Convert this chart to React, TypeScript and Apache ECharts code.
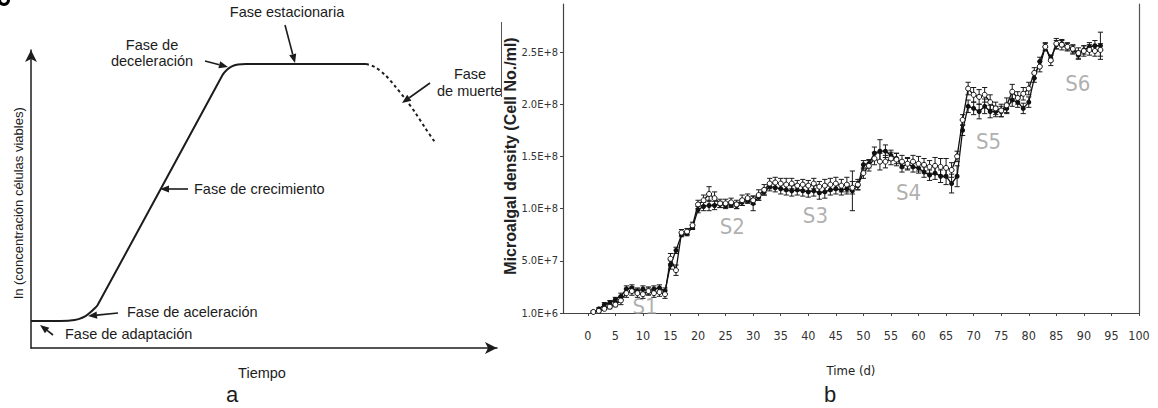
import React, { useEffect, useRef } from "react";
import * as echarts from "echarts";

// ---------- Panel a: schematic growth curve (abstract units 0..100) ----------
const growthX = [0, 6.3, 8.4, 10.2, 11.7, 13.0, 14.3, 41.1, 42.0, 43.1, 44.4, 46.1, 71.9];
const growthY = [9.1, 9.1, 9.2, 9.7, 10.7, 12.3, 14.4, 91.6, 93.3, 94.5, 95.1, 95.3, 95.3];
const deathX = [71.9, 73.8, 76.0, 78.1, 80.3, 82.5, 84.6, 86.8];
const deathY = [95.3, 94.3, 91.6, 87.9, 83.6, 78.9, 73.8, 68.8];

// ---------- Panel b: microalgal density (x 1e6 cells/ml), days 1..93 ----------
const firstDay = 1;
const filledDensity = [
  1, 4, 8, 10, 13, 16, 23, 24, 21, 23, 21, 23, 24, 21,
  46, 60, 75, 76, 82, 99, 102, 103, 103, 104, 103, 104, 103, 106, 108, 105,
  111, 116, 121, 120, 119, 118, 117, 118, 117, 116, 117, 115, 116, 118, 119, 118, 119, 117, 122,
  142, 143, 153, 155, 155, 151, 148, 140, 143, 140,
  139, 135, 132, 134, 131, 131, 124, 131, 175, 198,
  196, 193, 198, 193, 193, 193, 196, 204, 202, 196,
  202, 225, 241, 255, 244, 257, 258, 255, 252, 247,
  252, 255, 256, 256,
];
const openDensity = [
  1, 2, 4, 6, 8, 12, 19, 21, 19, 18, 21, 19, 20, 18,
  52, 41, 77, 78, 84, 104, 108, 114, 110, 105, 105, 106, 104, 108, 110, 108,
  113, 118, 124, 125, 124, 123, 124, 122, 123, 122, 124, 121, 122, 123, 124, 122, 123, 120, 123,
  134, 141, 148, 145, 145, 148, 147, 145, 143, 145,
  143, 142, 140, 141, 140, 139, 137, 150, 185, 215,
  209, 207, 209, 202, 196, 194, 199, 212, 206, 210,
  215, 230, 236, 255, 242, 258, 257, 255, 253, 249,
  251, 252, 251, 252,
];
const filledError = [
  1, 1, 2, 2, 2,
  3, 3, 3, 3, 3, 3, 3, 3, 3,
  4, 3, 2, 2, 2, 3,
  4, 5, 4, 3, 3, 3, 3, 3, 3, 7,
  3, 3, 4, 4, 5, 5, 5, 5, 5, 5,
  5, 6, 6, 5, 5, 5, 5, 19, 4,
  4, 4, 6, 11, 6, 5, 5, 5, 5, 5, 5,
  5, 5, 6, 6, 8, 9, 10,
  5, 6, 6, 7, 7, 6, 5, 5, 5, 6, 5, 5, 5,
  4, 4, 3, 3, 4, 3, 3, 4, 4, 4, 4, 5, 13,
];
const openError = [
  1, 1, 1, 2, 2,
  4, 4, 4, 4, 4, 4, 4, 4, 4,
  5, 5, 3, 3, 3, 4,
  5, 7, 6, 4, 4, 4, 4, 5, 4, 4,
  5, 5, 5, 5, 5, 6, 5, 5, 5, 5,
  5, 5, 6, 6, 6, 6, 7, 6, 5,
  5, 5, 6, 8, 6, 6, 6, 6, 6, 6, 7,
  6, 6, 8, 8, 9, 7, 5,
  5, 6, 7, 7, 7, 7, 6, 6, 7, 7, 6, 6, 6,
  5, 5, 4, 5, 5, 5, 4, 4, 5, 5, 5, 5, 6,
];
const stageNames = ["S1", "S2", "S3", "S4", "S5", "S6"];
const stageX = [10.4, 26.2, 41.3, 58.2, 72.7, 88.9];
const stageY = [6, 83, 93, 115, 164, 220];
const xTicks = [0, 5, 10, 15, 20, 25, 30, 35, 40, 45, 50, 55, 60, 65, 70, 75, 80, 85, 90, 95, 100];
const yTicks = [0, 5e7, 1e8, 1.5e8, 2e8, 2.5e8];
const UNIT = 1e6;

const SANS = '"Liberation Sans", Arial, Helvetica, sans-serif';
const NARROW = '"Liberation Sans Narrow", "Arial Narrow", "DejaVu Sans Condensed", sans-serif';
const INK = "#1c1c1c";
const ANN = 14.5;

function txt(text: string, x: number, y: number, align = "left", size = ANN, extra: any = {}) {
  return {
    type: "text",
    x,
    y,
    z: 100,
    ...extra,
    style: {
      text,
      fill: INK,
      fontSize: size,
      fontFamily: SANS,
      textAlign: align,
      align,
      textVerticalAlign: "middle",
      verticalAlign: "middle",
      ...(extra.style || {}),
    },
  };
}

function arrow(x1: number, y1: number, x2: number, y2: number) {
  const ang = Math.atan2(y2 - y1, x2 - x1);
  const L = 9;
  const W = 3.6;
  const bx = x2 - L * Math.cos(ang);
  const by = y2 - L * Math.sin(ang);
  const px = -Math.sin(ang) * W;
  const py = Math.cos(ang) * W;
  return [
    { type: "line", z: 100, shape: { x1, y1, x2: bx, y2: by }, style: { stroke: INK, lineWidth: 1.6 } },
    {
      type: "polygon",
      z: 100,
      shape: { points: [[x2, y2], [bx + px, by + py], [bx - px, by - py]] },
      style: { fill: INK },
    },
  ];
}

function errorData(vals: number[], errs: number[]) {
  return vals.map((v, i) => [i + firstDay, (v - errs[i]) * UNIT, (v + errs[i]) * UNIT]);
}

function errorRender(params: any, api: any) {
  const x = api.value(0);
  const lo = api.coord([x, api.value(1)]);
  const hi = api.coord([x, api.value(2)]);
  const w = 2.6;
  const st = { stroke: "#1a1a1a", lineWidth: 1 };
  return {
    type: "group",
    children: [
      { type: "line", shape: { x1: lo[0], y1: lo[1], x2: hi[0], y2: hi[1] }, style: st },
      { type: "line", shape: { x1: hi[0] - w, y1: hi[1], x2: hi[0] + w, y2: hi[1] }, style: st },
      { type: "line", shape: { x1: lo[0] - w, y1: lo[1], x2: lo[0] + w, y2: lo[1] }, style: st },
    ],
  };
}

export default function App() {
  const ref = useRef<HTMLDivElement>(null);

  useEffect(() => {
    if (!ref.current) return;
    const chart = echarts.init(ref.current, undefined, { renderer: "svg" });

    const graphics: any[] = [
      // partial glyph at the top-left corner of the scan
      { type: "ring", z: 100, shape: { cx: 4, cy: 0, r: 6, r0: 3 }, style: { fill: "#000" } },
      // panel a annotations
      txt("Fase estacionaria", 287, 12, "center"),
      ...arrow(285, 25, 295, 63),
      txt("Fase de", 152, 45, "center"),
      txt("deceleración", 152, 61, "center"),
      ...arrow(205, 61, 228, 67),
      txt("Fase", 470, 74, "center"),
      txt("de muerte", 437, 91, "left"),
      ...arrow(430, 83, 402, 103),
      txt("Fase de crecimiento", 194, 189),
      ...arrow(188, 189, 160, 189),
      txt("Fase de aceleración", 127, 312),
      ...arrow(118, 313, 88, 316),
      txt("Fase de adaptación", 65, 334),
      ...arrow(53, 335, 40, 325),
      txt("Tiempo", 262, 373, "center"),
      txt("ln (concentración células viables)", 18, 203, "center", 13, { rotation: Math.PI / 2 }),
      txt("a", 232, 394, "center", 22),
      // panel b extras
      {
        type: "text",
        x: 510,
        y: 156,
        rotation: Math.PI / 2,
        z: 100,
        style: {
          text: "Microalgal density (Cell No./ml)",
          fill: "#222",
          fontSize: 16,
          fontWeight: "bold",
          fontFamily: SANS,
          textAlign: "center",
          align: "center",
          textVerticalAlign: "middle",
          verticalAlign: "middle",
        },
      },
      { type: "line", z: 100, shape: { x1: 501.5, y1: 22, x2: 501.5, y2: 97 }, style: { stroke: "#555", lineWidth: 1 } },
      txt("b", 830, 394, "center", 22),
    ];

    const option: any = {
      animation: false,
      backgroundColor: "#ffffff",
      grid: [
        { left: 31, top: 50, width: 466, height: 298 },
        { left: 563, top: 4, width: 576, height: 309 },
      ],
      xAxis: [
        {
          type: "value",
          gridIndex: 0,
          min: 0,
          max: 100,
          axisLine: { show: true, symbol: ["none", "arrow"], symbolSize: [9, 12], lineStyle: { color: INK, width: 1.5 } },
          axisTick: { show: false },
          axisLabel: { show: false },
          splitLine: { show: false },
        },
        {
          type: "value",
          gridIndex: 1,
          min: -4.5,
          max: 100,
          axisLine: { show: true, onZero: false, lineStyle: { color: "#444", width: 1.2 } },
          axisTick: { show: true, length: 3, customValues: xTicks, lineStyle: { color: "#444" } },
          axisLabel: {
            customValues: xTicks,
            margin: 16,
            color: "#333",
            fontSize: 12.5,
            fontFamily: NARROW,
          },
          splitLine: { show: false },
          name: "Time (d)",
          nameLocation: "middle",
          nameGap: 51,
          nameTextStyle: { color: "#222", fontSize: 13, fontFamily: NARROW },
        },
      ],
      yAxis: [
        {
          type: "value",
          gridIndex: 0,
          min: 0,
          max: 100,
          axisLine: { show: true, symbol: ["none", "arrow"], symbolSize: [9, 12], lineStyle: { color: INK, width: 1.5 } },
          axisTick: { show: false },
          axisLabel: { show: false },
          splitLine: { show: false },
        },
        {
          type: "value",
          gridIndex: 1,
          min: 0,
          max: 2.96e8,
          axisLine: { show: true, onZero: false, lineStyle: { color: "#444", width: 1.2 } },
          axisTick: { show: true, length: 3, customValues: yTicks, lineStyle: { color: "#444" } },
          axisLabel: {
            customValues: yTicks,
            margin: 5,
            color: "#333",
            fontSize: 11,
            fontFamily: NARROW,
            formatter: (v: number) => (v === 0 ? "1.0E+6" : v.toExponential(1).toUpperCase()),
          },
          splitLine: { show: false },
        },
        {
          type: "value",
          gridIndex: 1,
          position: "right",
          min: 0,
          max: 2.96e8,
          axisLine: { show: true, onZero: false, lineStyle: { color: "#555", width: 1.2 } },
          axisTick: { show: false },
          axisLabel: { show: false },
          splitLine: { show: false },
        },
      ],
      series: [
        {
          type: "line",
          xAxisIndex: 0,
          yAxisIndex: 0,
          data: growthX.map((x, i) => [x, growthY[i]]),
          showSymbol: false,
          smooth: 0.2,
          lineStyle: { color: INK, width: 2 },
          silent: true,
        },
        {
          type: "line",
          xAxisIndex: 0,
          yAxisIndex: 0,
          data: deathX.map((x, i) => [x, deathY[i]]),
          showSymbol: false,
          smooth: 0.3,
          lineStyle: { color: INK, width: 2, type: [3, 3] },
          silent: true,
        },
        {
          type: "scatter",
          xAxisIndex: 1,
          yAxisIndex: 1,
          data: stageX.map((x, i) => [x, stageY[i] * UNIT, stageNames[i]]),
          symbolSize: 0,
          z: 1,
          label: {
            show: true,
            position: "inside",
            formatter: (p: any) => p.value[2],
            color: "#9b9b9b",
            fontSize: 22,
            fontFamily: NARROW,
          },
          silent: true,
        },
        {
          type: "custom",
          xAxisIndex: 1,
          yAxisIndex: 1,
          renderItem: errorRender,
          encode: { x: 0, y: [1, 2] },
          data: errorData(filledDensity, filledError),
          z: 3,
          silent: true,
        },
        {
          type: "custom",
          xAxisIndex: 1,
          yAxisIndex: 1,
          renderItem: errorRender,
          encode: { x: 0, y: [1, 2] },
          data: errorData(openDensity, openError),
          z: 3,
          silent: true,
        },
        {
          type: "line",
          xAxisIndex: 1,
          yAxisIndex: 1,
          data: filledDensity.map((v, i) => [i + firstDay, v * UNIT]),
          symbol: "circle",
          symbolSize: 5,
          itemStyle: { color: "#111" },
          lineStyle: { color: "#111", width: 1.3 },
          z: 4,
          silent: true,
        },
        {
          type: "line",
          xAxisIndex: 1,
          yAxisIndex: 1,
          data: openDensity.map((v, i) => [i + firstDay, v * UNIT]),
          symbol: "circle",
          symbolSize: 5,
          itemStyle: { color: "#fff", borderColor: "#111", borderWidth: 1 },
          lineStyle: { color: "#111", width: 1.3 },
          z: 5,
          silent: true,
        },
      ],
      graphic: graphics,
    };

    chart.setOption(option);
    return () => chart.dispose();
  }, []);

  return (
    <div
      ref={ref}
      style={{ position: "fixed", left: 0, top: 0, width: 1158, height: 408, background: "#fff" }}
    />
  );
}
